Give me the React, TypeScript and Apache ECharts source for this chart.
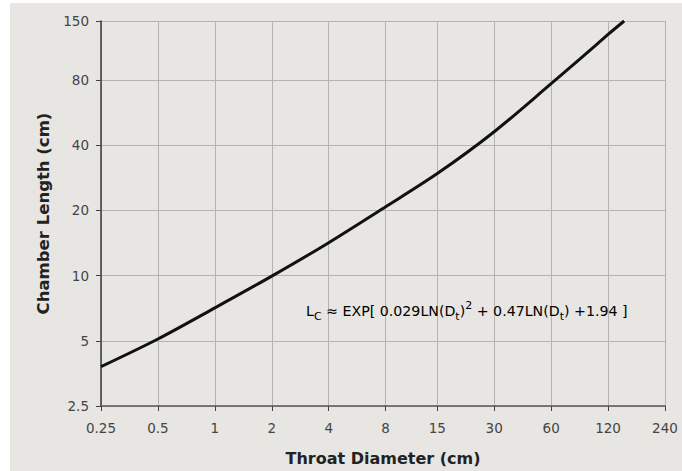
import React, { useEffect, useRef } from "react";
import * as echarts from "echarts";

// Throat diameter (cm) and chamber length (cm)
const diameters = [0.25, 0.5, 1, 2, 4, 8, 15, 30, 60, 85, 120, 146];
const lengths = [3.8, 5.1, 7.1, 9.95, 14.2, 20.8, 29.6, 46.2, 77, 100, 130, 150];

// Tick values and labels
const xTicks = [0.25, 0.5, 1, 2, 4, 8, 15, 30, 60, 120, 240];
const xTickLabels = ["0.25", "0.5", "1", "2", "4", "8", "15", "30", "60", "120", "240"];
const yTicks = [2.5, 5, 10, 20, 40, 80, 150];
const yTickLabels = ["2.5", "5", "10", "20", "40", "80", "150"];

const xName = "Throat Diameter (cm)";
const yName = "Chamber Length (cm)";

function nearestLabel(v: number, ticks: number[], labels: string[]) {
  let best = 0;
  let bd = Infinity;
  for (let i = 0; i < ticks.length; i++) {
    const d = Math.abs(Math.log(v) - Math.log(ticks[i]));
    if (d < bd) {
      bd = d;
      best = i;
    }
  }
  return labels[best];
}

const FONT = "'DejaVu Sans', Verdana, sans-serif";

export default function App() {
  const ref = useRef<HTMLDivElement>(null);
  useEffect(() => {
    if (!ref.current) return;
    const chart = echarts.init(ref.current, undefined, { renderer: "svg" });
    const gridLine = { show: true, lineStyle: { color: "#b3b3b1", width: 1 } };
    chart.setOption({
      animation: false,
      backgroundColor: "#ffffff",
      graphic: [
        {
          type: "rect",
          z: -10,
          silent: true,
          shape: { x: 10, y: 3, width: 682, height: 471 },
          style: { fill: "#e7e6e3" },
        },
        {
          type: "text",
          x: 306,
          y: 311,
          z: 10,
          style: {
            text:
              "{n|L}{s|C}{n| ≈ EXP[ 0.029LN(D}{s|t}{n|)}{p|2}{n| + 0.47LN(D}{s|t}{n|) +1.94 ]}",
            verticalAlign: "middle",
            rich: {
              n: { fontFamily: FONT, fontSize: 14.2, color: "#333", lineHeight: 22, verticalAlign: "middle" },
              s: { fontFamily: FONT, fontSize: 11, color: "#333", lineHeight: 22, verticalAlign: "bottom" },
              p: { fontFamily: FONT, fontSize: 11, color: "#333", lineHeight: 22, verticalAlign: "top" },
            },
          },
        },
      ],
      grid: { left: 101, right: 17, top: 21, bottom: 63, show: false },
      xAxis: {
        type: "log",
        logBase: 2,
        min: 0.25,
        max: 240,
        name: xName,
        nameLocation: "middle",
        nameGap: 44,
        nameTextStyle: { fontFamily: FONT, fontSize: 16, fontWeight: "bold", color: "#222" },
        axisLine: { show: true, lineStyle: { color: "#5a5a5a", width: 1.5 } },
        axisTick: { show: true, length: 5, customValues: xTicks, lineStyle: { color: "#444", width: 1 } },
        axisLabel: {
          customValues: xTicks,
          margin: 15,
          fontFamily: FONT,
          fontSize: 13.5,
          color: "#444",
          formatter: (v: number) => nearestLabel(v, xTicks, xTickLabels),
        },
        splitLine: gridLine,
      },
      yAxis: {
        type: "log",
        logBase: 2,
        min: 2.5,
        max: 150,
        name: yName,
        nameLocation: "middle",
        nameGap: 47,
        nameTextStyle: { fontFamily: FONT, fontSize: 16.5, fontWeight: "bold", color: "#222" },
        axisLine: { show: true, lineStyle: { color: "#3a3a3a", width: 1.5 } },
        axisTick: { show: true, length: 5, customValues: yTicks, lineStyle: { color: "#444", width: 1 } },
        axisLabel: {
          customValues: yTicks,
          margin: 12,
          fontFamily: FONT,
          fontSize: 13.5,
          color: "#444",
          formatter: (v: number) => nearestLabel(v, yTicks, yTickLabels),
        },
        splitLine: gridLine,
      },
      series: [
        {
          type: "line",
          data: diameters.map((d, i) => [d, lengths[i]]),
          smooth: 0.3,
          showSymbol: false,
          lineStyle: { color: "#111", width: 3 },
        },
      ],
    });
    return () => chart.dispose();
  }, []);
  return (
    <div
      ref={ref}
      style={{ position: "fixed", left: 0, top: 0, width: 682, height: 471 }}
    />
  );
}
